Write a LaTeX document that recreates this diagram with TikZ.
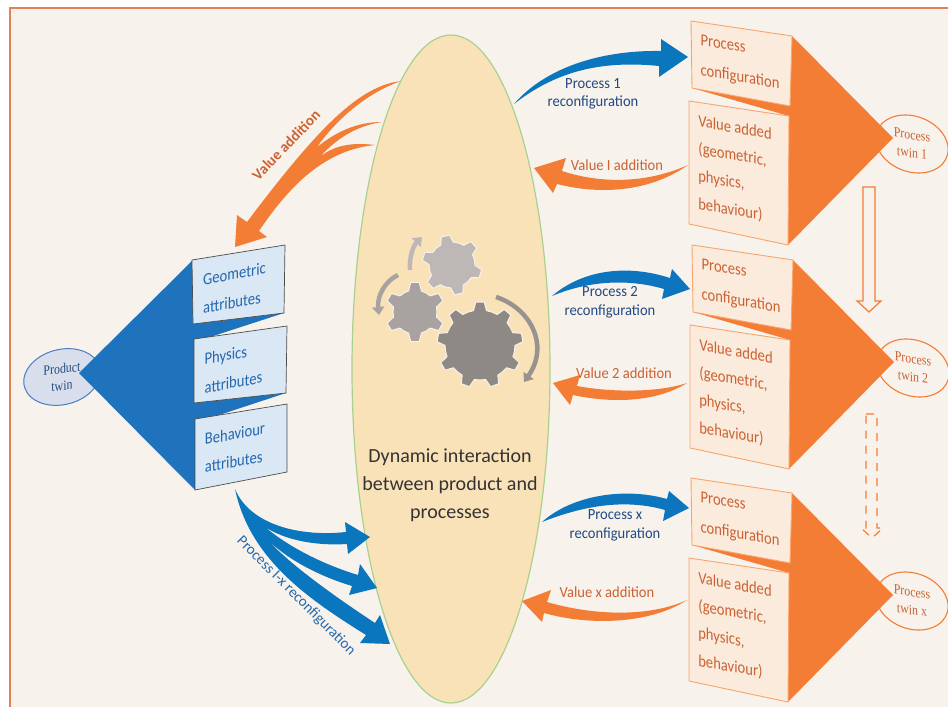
\documentclass[tikz,border=0pt]{standalone}
\usepackage{fontspec}
\setmainfont{Carlito}
\newfontfamily\twinfont{Liberation Serif}
\usetikzlibrary{arrows.meta,shapes.geometric}
\definecolor{pagecream}{HTML}{F7F2EC}
\definecolor{frameline}{HTML}{E2805A}
\definecolor{bluefan}{HTML}{1F72BC}
\definecolor{bluearrow}{HTML}{0A76BE}
\definecolor{blueink}{HTML}{2468AE}
\definecolor{navyink}{HTML}{234A82}
\definecolor{bluebox}{HTML}{DAE7F4}
\definecolor{ovalblue}{HTML}{D9DEEC}
\definecolor{ovalrim}{HTML}{4A7EC0}
\definecolor{twinorange}{HTML}{F47D36}
\definecolor{orangeink}{HTML}{CB6233}
\definecolor{orangebox}{HTML}{FBEBDC}
\definecolor{orangeline}{HTML}{F9A46C}
\definecolor{ovalfill}{HTML}{FAE2B8}
\definecolor{ovalline}{HTML}{A9D18E}
\definecolor{gearlight}{HTML}{BDB8B5}
\definecolor{gearmid}{HTML}{A8A3A0}
\definecolor{geardark}{HTML}{8E8985}
\tikzset{
  boxtext/.style={align=left,inner sep=0pt,xscale=.86,font=\fontsize{17}{#1}\selectfont},
  arrowtext/.style={align=center,inner sep=0pt,xscale=.94,text=#1,font=\fontsize{15.5}{18.5}\selectfont},
  twinoval/.style={ellipse,draw=twinorange,line width=1.1pt,yslant=-.15,xscale=.85,minimum width=85pt,minimum height=57pt,inner sep=0pt,
    align=center,text=orangeink,font=\twinfont\fontsize{14}{18}\selectfont},
  gearturn/.style={line width=4.5pt,-{Triangle[length=8pt,width=12pt]}},
}
\newcommand{\twinset}[4]{%
  \begin{scope}[shift={(#1,#2)}]
    \node[twinoval] (twin#3) at (912,144) {Process\\twin #4};
    \fill[twinorange] (792,36) -- (893,138) -- (788,245) -- (789,116) -- (692,88) -- (790,106) -- cycle;
    \filldraw[draw=orangeline,fill=orangebox,line width=.9pt] (691,21) -- (792,36) -- (790,106) -- (692,88) -- cycle;
    \filldraw[draw=orangeline,fill=orangebox,line width=.9pt] (689,101) -- (789,116) -- (788,245) -- (689,224) -- cycle;
    \node[boxtext=30,text=orangeink,yslant=-.15] (conf#3) at (740,63) {Process\\configuration};
    \node[boxtext=27.5,text=orangeink,yslant=-.15] (added#3) at (735,169.5) {Value added\\(geometric,\\physics,\\behaviour)};
  \end{scope}}
\newcommand{\gearshape}[7]{%
  \begin{scope}[shift={(#1,#2)}]
    \pgfmathsetmacro{\gearstep}{360/#5}
    \pgfmathsetmacro{\gearbase}{deg(6.5/#3)}
    \pgfmathsetmacro{\gearhead}{deg(4.3/#4)}
    \filldraw[draw=pagecream,line width=1pt,fill=#7] ({#6+\gearbase}:#3pt) \foreach \k in {1,...,#5}{
      -- ({#6-(\k-1)*\gearstep+\gearbase}:#3pt)
      -- ({#6-(\k-1)*\gearstep+\gearhead}:#4pt)
      -- ({#6-(\k-1)*\gearstep-\gearhead}:#4pt)
      -- ({#6-(\k-1)*\gearstep-\gearbase}:#3pt)
      arc[start angle={#6-(\k-1)*\gearstep-\gearbase},delta angle={-\gearstep+2*\gearbase},radius=#3pt]
    } -- cycle;
  \end{scope}}
\begin{document}
\begin{tikzpicture}[x=1pt,y=-1pt]
  \useasboundingbox (0,0) rectangle (948,707);
  \fill[pagecream] (10,8) rectangle (948,707);
  \draw[frameline,line width=1.6pt] (10,707) -- (10,8) -- (948,8);
  % centre oval and gears
  \node[ellipse,draw=ovalline,fill=ovalfill,line width=1.2pt,minimum width=198pt,minimum height=668pt,inner sep=0pt] (oval) at (451,369) {};
  \gearshape{452}{265}{23}{30}{6}{103}{gearlight}
  \gearshape{415}{312}{22}{30}{6}{90}{gearmid}
  \gearshape{480}{345}{35}{43}{9}{90}{geardark}
  \draw[gearturn,gearlight] (410,270) .. controls (409,258) and (413,246) .. (422,237);
  \draw[gearturn,gearmid] (398,275) .. controls (385,281) and (377,296) .. (379,315);
  \draw[gearturn,gearmid!90!black] (496,297) .. controls (530,308) and (550,345) .. (524,382);
  \node[align=center,inner sep=0pt,text=black!80,font=\fontsize{20}{28}\selectfont] (dyn) at (450,485) {Dynamic interaction\\between product and\\processes};
  % product side
  \node[ellipse,draw=ovalrim,fill=ovalblue,line width=1pt,yslant=.12,xscale=.85,minimum width=90pt,minimum height=56pt,inner sep=0pt,
    align=center,text=navyink,font=\twinfont\fontsize{14}{17}\selectfont] (ptwin) at (62,377) {Product\\twin};
  \fill[bluefan] (79,373) -- (193,260) -- (193,324) -- (284,313) -- (204,339) -- (194,403) -- (286,393) -- (207,419) -- (195,490) -- cycle;
  \filldraw[draw=black!70,fill=bluebox,line width=.7pt] (192,260) -- (285,245) -- (284,313) -- (193,324) -- cycle;
  \filldraw[draw=black!70,fill=bluebox,line width=.7pt] (194,339) -- (287,326) -- (286,393) -- (194,403) -- cycle;
  \filldraw[draw=black!70,fill=bluebox,line width=.7pt] (195,419) -- (287,404) -- (287,472) -- (195,490) -- cycle;
  \node[boxtext=28.5,text=blueink,yslant=.16] (geo) at (234.5,288) {Geometric\\attributes};
  \node[boxtext=28.5,text=blueink,yslant=.16] (phy) at (233.5,368) {Physics\\attributes};
  \node[boxtext=28,text=blueink,yslant=.16] (beh) at (235,447.5) {Behaviour\\attributes};
  % process twins
  \twinset{0}{0}{one}{1}
  \twinset{1}{224}{two}{2}
  \twinset{0}{457}{ex}{x}
  % arrows between the twins
  \draw[twinorange,line width=1.2pt,line join=miter] (863,187) -- (875,187) -- (875,301) -- (881,301) -- (869,312) -- (857,301) -- (863,301) -- cycle;
  \draw[twinorange,line width=1.2pt,dash pattern=on 8pt off 7pt] (866,414) -- (877,414) -- (877,528) -- (883,528) -- (872,538) -- (861,528) -- (866,528) -- cycle;
  % reconfiguration arrows
  \fill[bluearrow] (514,104) .. controls (545,68) and (600,50) .. (661,51) -- (661,39) -- (688,57) -- (659,77) -- (659,66) .. controls (600,60) and (555,72) .. (514,104) -- cycle;
  \fill[bluearrow!85!bluefan] (552,296) .. controls (585,268) and (630,265) .. (670,278) -- (672,269) -- (690,289) -- (662,299) -- (664,289) .. controls (630,279) and (590,280) .. (552,296) -- cycle;
  \fill[bluearrow!85!bluefan] (542,522) .. controls (572,495) and (625,487) .. (667,499) -- (669,491) -- (689,508) -- (663,521) -- (665,510) .. controls (630,500) and (590,503) .. (542,522) -- cycle;
  % value arrows
  \fill[twinorange] (688,165) .. controls (650,182) and (605,185) .. (562,171) -- (566,158) -- (534,168) -- (553,193) -- (557,184) .. controls (600,195) and (650,192) .. (688,165) -- cycle;
  \fill[twinorange] (687,383) .. controls (660,392) and (615,393) .. (577,386) -- (580,375) -- (553,383) -- (570,405) -- (573,395) .. controls (610,403) and (655,403) .. (687,383) -- cycle;
  \fill[twinorange] (687,600) .. controls (650,617) and (595,616) .. (547,602) -- (551,590) -- (522,601) -- (542,622) -- (544,613) .. controls (590,626) and (650,624) .. (687,600) -- cycle;
  \node[arrowtext=navyink] (pone) at (593,94) {Process 1\\reconfiguration};
  \node[arrowtext=navyink] (ptwo) at (610,302.5) {Process 2\\reconfiguration};
  \node[arrowtext=navyink] (pex) at (615,525.5) {Process x\\reconfiguration};
  \node[arrowtext=orangeink] (vone) at (617,165) {Value I addition};
  \node[arrowtext=orangeink] (vtwo) at (624,373) {Value 2 addition};
  \node[arrowtext=orangeink] (vex) at (607,592) {Value x addition};
  % product side arrows
  \fill[twinorange] (401,81) .. controls (360,86) and (320,125) .. (247,222) -- (237,215) -- (235,247) -- (267,237) -- (259,231)
    .. controls (290,185) and (325,150) .. (375,145) .. controls (350,142) and (333,146) .. (320,157)
    .. controls (335,140) and (355,126) .. (382,122) .. controls (355,122) and (335,133) .. (317,147)
    .. controls (340,115) and (370,92) .. (401,81) -- cycle;
  \fill[bluearrow] (235,489) .. controls (250,525) and (300,537) .. (346,532) -- (345,522) -- (370,537) -- (348,554) -- (347,544)
    .. controls (315,546) and (285,540) .. (265,527) .. controls (290,548) and (325,565) .. (358,575) -- (360,564) -- (377,588) -- (349,595) -- (352,586)
    .. controls (325,578) and (290,562) .. (268,540) .. controls (290,565) and (340,600) .. (375,623) -- (380,615) -- (390,644) -- (360,643) -- (366,635)
    .. controls (310,600) and (250,560) .. (235,489) -- cycle;
  \node[inner sep=0pt,text=orangeink,rotate=46,font=\bfseries\fontsize{15}{18}\selectfont] (vadd) at (286,145) {Value addition};
  \node[inner sep=0pt,text=blueink,rotate=-45,font=\fontsize{15}{18}\selectfont] (pall) at (296,596) {Process I-x reconfiguration};
\end{tikzpicture}
\end{document}
